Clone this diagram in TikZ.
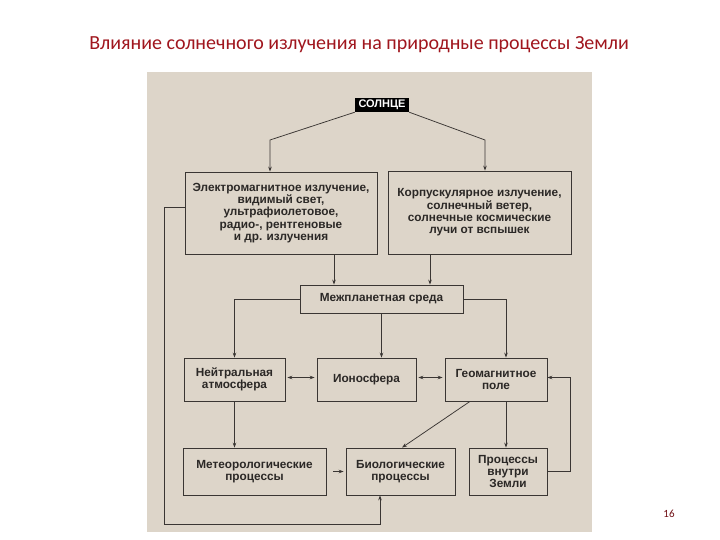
\documentclass[tikz,border=0pt]{standalone}
\usepackage{fontspec}
\setmainfont{Liberation Sans}
\newfontfamily\titlefont{Carlito}
\usetikzlibrary{arrows.meta}
\definecolor{paper}{HTML}{DDD5C9}
\definecolor{lineC}{HTML}{3A3633}
\definecolor{txtC}{HTML}{2B2826}
\definecolor{titleC}{HTML}{A0161E}
\tikzset{
  box/.style={draw=lineC, line width=0.8pt, align=center, text=txtC,
    font=\bfseries\fontsize{11.8}{12.4}\selectfont, inner sep=0pt},
  arr/.style={draw=lineC, line width=0.75pt, -{Stealth[length=5pt,width=3.6pt]}},
  dbl/.style={draw=lineC, line width=0.75pt, {Stealth[length=5pt,width=3.6pt]}-{Stealth[length=5pt,width=3.6pt]}},
}
\begin{document}
\begin{tikzpicture}[x=1pt,y=-1pt]
\useasboundingbox (0,0) rectangle (720,540);
\fill[white] (0,0) rectangle (720,540);
\fill[paper] (147,72) rectangle (592,532);
\node[font=\titlefont\fontsize{20}{24}\selectfont, text=titleC] (title) at (359,45)
  {Влияние солнечного излучения на природные процессы Земли};
\node[font=\titlefont\fontsize{11}{13}\selectfont, text=titleC!70!black] (page) at (669,514) {16};

\node[fill=black, text=white, font=\bfseries\fontsize{11}{12}\selectfont,
  minimum width=54pt, minimum height=14pt, inner sep=0pt] (sun) at (382,105) {СОЛНЦЕ};

\node[box, minimum width=192pt, minimum height=82pt] (em) at (281,213)
  {Электромагнитное излучение,\\видимый свет,\\ультрафиолетовое,\\радио-, рентгеновые\\и др. излучения};
\node[box, minimum width=183pt, minimum height=83pt] (corp) at (479.5,212.5)
  {Корпускулярное излучение,\\солнечный ветер,\\солнечные космические\\лучи от вспышек};
\node[box, minimum width=163pt, minimum height=28pt] (inter) at (381.5,299)
  {Межпланетная среда};
\node[box, minimum width=101pt, minimum height=43pt] (neut) at (234.5,379.5)
  {Нейтральная\\атмосфера};
\node[box, minimum width=99pt, minimum height=43pt] (iono) at (366.5,379.5)
  {Ионосфера};
\node[box, minimum width=102pt, minimum height=43pt] (geo) at (496,379.5)
  {Геомагнитное\\поле};
\node[box, minimum width=143pt, minimum height=47pt] (meteo) at (254.5,471.5)
  {Метеорологические\\процессы};
\node[box, minimum width=109pt, minimum height=47pt] (bio) at (400.5,471.5)
  {Биологические\\процессы};
\node[box, minimum width=78pt, minimum height=47pt] (earth) at (508,471.5)
  {Процессы\\внутри\\Земли};

\coordinate (c1) at (270,140);
\coordinate (c2) at (485,140);
\coordinate (xA) at (334,0);
\coordinate (xB) at (430,0);
\coordinate (xR) at (506,0);
\coordinate (xF) at (570,0);
\coordinate (xL) at (164,0);
\coordinate (xBio) at (380,0);
\coordinate (yB) at (0,524);

\draw[arr] (sun.south west) -- (c1) -- (c1 |- em.north);
\draw[arr] (sun.south east) -- (c2) -- (c2 |- corp.north);
\draw[arr] (em.south -| xA) -- (inter.north -| xA);
\draw[arr] (corp.south -| xB) -- (inter.north -| xB);
\draw[arr] (inter.west) -| (neut.north);
\draw[arr] (inter.east) -| (geo.north -| xR);
\draw[arr] (inter.south) -- (inter.south |- iono.north);
\draw[dbl] ([xshift=2pt,yshift=2pt]neut.east) -- ([xshift=-2pt,yshift=2pt]iono.west);
\draw[dbl] ([xshift=2pt,yshift=2pt]iono.east) -- ([xshift=-2pt,yshift=2pt]geo.west);
\draw[arr] (neut.south) -- (neut.south |- meteo.north);
\draw[arr] (geo.south -| xR) -- (earth.north -| xR);
\draw[arr] ([xshift=-26pt]geo.south) -- ([xshift=1.5pt]bio.north);
\draw[arr] ([xshift=7pt]meteo.east) -- ([xshift=-2pt]bio.west);
\draw[arr] (earth.east) -- (earth.east -| xF) |- ([yshift=2pt]geo.east);
\draw[arr] ([yshift=6pt]em.west) -| (xL |- yB) -| (xBio |- bio.south);
\end{tikzpicture}
\end{document}
